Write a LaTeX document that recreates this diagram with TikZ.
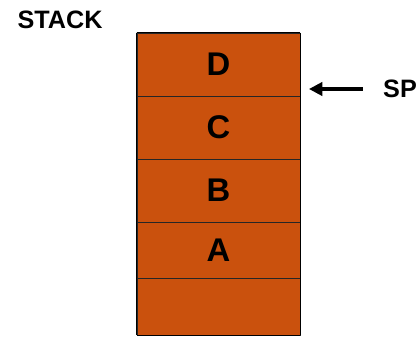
\documentclass[tikz,border=0pt]{standalone}
\usepackage{fontspec}
\setmainfont{Liberation Sans}
\usetikzlibrary{arrows.meta,positioning}
\definecolor{sorange}{HTML}{CA510D}

\begin{document}
\begin{tikzpicture}[
  x=0.03cm,y=-0.03cm,
  cell/.style={draw=black!85,line width=0.7pt,fill=sorange,minimum width=4.89cm,
               inner sep=0pt,font=\fontsize{28}{30}\selectfont\bfseries},
  lbl/.style={font=\fontsize{21.5}{24}\selectfont\bfseries,inner sep=0pt},
  ptr/.style={-{Triangle[length=4mm,width=4mm]},line width=2.6pt}]
\useasboundingbox (0,0) rectangle (418,337);

% ---------------- the stack ----------------
\node[cell,minimum height=1.89cm] (cd) at (218.5,64.5)  {D};
\node[cell,minimum height=1.89cm] (cc) at (218.5,127.5) {C};
\node[cell,minimum height=1.89cm] (cb) at (218.5,190.5) {B};
\node[cell,minimum height=1.68cm] (ca) at (218.5,250)   {A};
\node[cell,minimum height=1.71cm] (ce) at (218.5,306.5) {};
\draw[line width=1.4pt] (cd.north west) -- (ce.south west)
  (cd.north east) -- (ce.south east) (cd.north west) -- (cd.north east)
  (ce.south west) -- (ce.south east);

% ---------------- labels ----------------
\node[lbl] (stk) at (60,20) {STACK};
\node[lbl] (sp)  at (400,89) {SP};
\coordinate (sphead) at (309,89);
\draw[ptr,shorten <=0.6cm] (sp.west) -- (sphead);
\end{tikzpicture}
\end{document}
